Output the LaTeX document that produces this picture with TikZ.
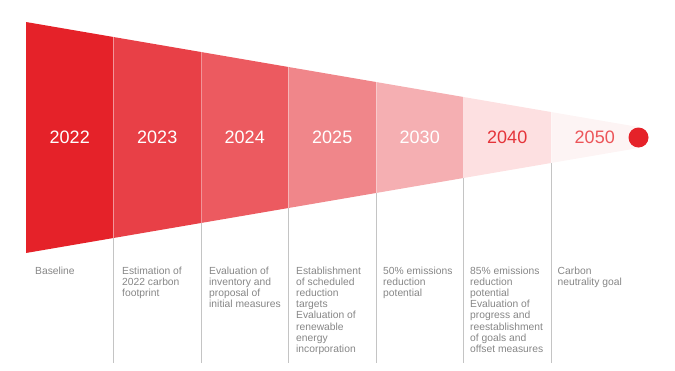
\documentclass[tikz,border=0pt]{standalone}
\usepackage{fontspec}
\setmainfont{Liberation Sans}
\definecolor{c1}{HTML}{E52229}
\definecolor{c2}{HTML}{E84047}
\definecolor{c3}{HTML}{EC5A60}
\definecolor{c4}{HTML}{F0868A}
\definecolor{c5}{HTML}{F5AFB2}
\definecolor{c6}{HTML}{FDE0E1}
\definecolor{c7}{HTML}{FDF4F4}
\definecolor{t6}{HTML}{E5343A}
\definecolor{t7}{HTML}{EC5559}
\definecolor{desccol}{HTML}{868686}
\definecolor{linecol}{HTML}{C4C4C4}
\tikzset{
  year/.style={font=\fontsize{18}{18}\selectfont, text=white, inner sep=0pt},
  desc/.style={font=\fontsize{10.3}{11.2}\selectfont, text=desccol, align=left, anchor=north west, inner sep=0pt},
  vline/.style={draw=linecol, line width=1pt},
  sepline/.style={draw=white, draw opacity=0.35, line width=0.8pt},
}
\begin{document}
\begin{tikzpicture}[x=1pt,y=-1pt]
\useasboundingbox (0,0) rectangle (675,370);
% funnel segments
\fill[c1] (26,22) -- (113.5,37) -- (113.5,238) -- (26,253) -- cycle;
\fill[c2] (113.5,37) -- (201,52) -- (201,223) -- (113.5,238) -- cycle;
\fill[c3] (201,52) -- (288.5,67) -- (288.5,208) -- (201,223) -- cycle;
\fill[c4] (288.5,67) -- (376,82) -- (376,193) -- (288.5,208) -- cycle;
\fill[c5] (376,82) -- (463.5,97) -- (463.5,178) -- (376,193) -- cycle;
\fill[c6] (463.5,97) -- (551,112) -- (551,163) -- (463.5,178) -- cycle;
\fill[c7] (551,112) -- (638.5,127) -- (638.5,148) -- (551,163) -- cycle;
% end dot
\node[circle, fill=c1, minimum size=20pt, inner sep=0pt] (dot) at (638.5,137.5) {};
% separators and timeline lines
\foreach \x/\t/\b/\n in {113.5/37/238/1, 201/52/223/2, 288.5/67/208/3, 376/82/193/4, 463.5/97/178/5, 551/112/163/6}{
  \coordinate (t\n) at (\x,\t);
  \coordinate (b\n) at (\x,\b);
  \coordinate (e\n) at (\x,363);
  \draw[sepline] (t\n) -- (b\n);
  \draw[vline] (b\n) -- (e\n);
}
% years
\node[year] (y2022) at (69.75,137.5) {2022};
\node[year] (y2023) at (157.25,137.5) {2023};
\node[year] (y2024) at (244.75,137.5) {2024};
\node[year] (y2025) at (332.25,137.5) {2025};
\node[year] (y2030) at (419.75,137.5) {2030};
\node[year, text=t6] (y2040) at (507.25,137.5) {2040};
\node[year, text=t7] (y2050) at (594.75,137.5) {2050};
% descriptions
\node[desc] (d1) at (35,266.5) {Baseline};
\node[desc] (d2) at (122,266.5) {Estimation of\\2022 carbon\\footprint};
\node[desc] (d3) at (209,266.5) {Evaluation of\\inventory and\\proposal of\\initial measures};
\node[desc] (d4) at (296,266.5) {Establishment\\of scheduled\\reduction\\targets\\Evaluation of\\renewable\\energy\\incorporation};
\node[desc] (d5) at (383,266.5) {50\% emissions\\reduction\\potential};
\node[desc] (d6) at (470,266.5) {85\% emissions\\reduction\\potential\\Evaluation of\\progress and\\reestablishment\\of goals and\\offset measures};
\node[desc] (d7) at (557.5,266.5) {Carbon\\neutrality goal};
\end{tikzpicture}
\end{document}
